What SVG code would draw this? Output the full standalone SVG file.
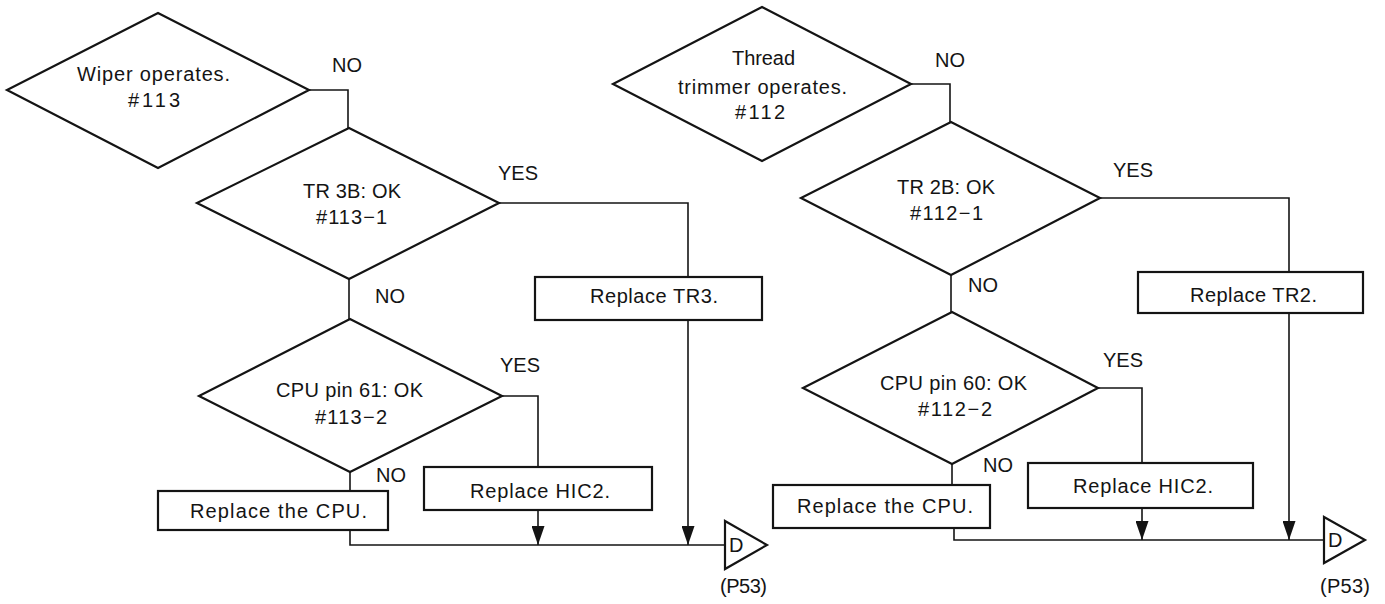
<svg xmlns="http://www.w3.org/2000/svg" width="1385" height="604" viewBox="0 0 1385 604">
<style>
.shape{fill:#fff;stroke:#141414;stroke-width:2.2;stroke-linejoin:miter}
.conn{fill:none;stroke:#141414;stroke-width:1.6}
text{font-family:"Liberation Sans",Arial,sans-serif;font-size:20px;fill:#141414}
.lbl{font-size:20px}
</style>
<defs>
<marker id="arr" viewBox="0 0 19 13" refX="19" refY="6.5" markerWidth="19" markerHeight="13" markerUnits="userSpaceOnUse" orient="auto">
<path d="M0,0 L19,6.5 L0,13 z" fill="#141414"/>
</marker>
</defs>
<rect x="0" y="0" width="1385" height="604" fill="#fff"/>

<g id="connectors">
<path class="conn" d="M309,90 H348 V128"/>
<path class="conn" d="M499,203 H688 V277"/>
<path class="conn" d="M688,320 V545" marker-end="url(#arr)"/>
<path class="conn" d="M349,279 V319"/>
<path class="conn" d="M502,396 H538 V467"/>
<path class="conn" d="M538,510 V545" marker-end="url(#arr)"/>
<path class="conn" d="M350,472 V491"/>
<path class="conn" d="M350,530 V545 H725"/>
<path class="conn" d="M911,84 H950 V122"/>
<path class="conn" d="M1100,198 H1289 V272"/>
<path class="conn" d="M1289,313 V540" marker-end="url(#arr)"/>
<path class="conn" d="M951,275 V312"/>
<path class="conn" d="M1098,388 H1142 V463"/>
<path class="conn" d="M1142,508 V540" marker-end="url(#arr)"/>
<path class="conn" d="M952,464 V485"/>
<path class="conn" d="M954,528 V540 H1324"/>
<text class="lbl" x="332" y="72">NO</text>
<text class="lbl" x="498" y="180">YES</text>
<text class="lbl" x="375" y="303">NO</text>
<text class="lbl" x="500" y="372">YES</text>
<text class="lbl" x="376" y="482">NO</text>
<text class="lbl" x="935" y="67">NO</text>
<text class="lbl" x="1113" y="177">YES</text>
<text class="lbl" x="968" y="292">NO</text>
<text class="lbl" x="1103" y="367">YES</text>
<text class="lbl" x="983" y="472">NO</text>
</g>

<g id="n113">
<polygon class="shape" points="158,13 309,90 158,168 7,90"/>
<text x="77" y="81" textLength="153">Wiper operates.</text>
<text x="128" y="107" textLength="52">#113</text>
</g>
<g id="n113-1">
<polygon class="shape" points="349,128 499,203 349,279 197,203"/>
<text x="303" y="198" textLength="98">TR 3B: OK</text>
<text x="316" y="224" textLength="71">#113−1</text>
</g>
<g id="replaceTR3">
<rect class="shape" x="535" y="277" width="227" height="43"/>
<text x="590" y="303" textLength="128">Replace TR3.</text>
</g>
<g id="n113-2">
<polygon class="shape" points="350,319 502,396 350,472 199,396"/>
<text x="276" y="397" textLength="147">CPU pin 61: OK</text>
<text x="315" y="424" textLength="72">#113−2</text>
</g>
<g id="replaceHIC2L">
<rect class="shape" x="424" y="467" width="228" height="43"/>
<text x="470" y="498" textLength="140">Replace HIC2.</text>
</g>
<g id="replaceCPUL">
<rect class="shape" x="158" y="491" width="230" height="39"/>
<text x="190" y="518" textLength="177">Replace the CPU.</text>
</g>
<g id="offpageDL">
<polygon class="shape" points="725,521 767,545 725,569"/>
<text x="729" y="552" font-size="19">D</text>
<text x="720" y="593" font-size="19" textLength="47">(P53)</text>
</g>

<g id="n112">
<polygon class="shape" points="762,7 911,84 762,161 613,84"/>
<text x="732" y="65" textLength="63">Thread</text>
<text x="678" y="94" textLength="169">trimmer operates.</text>
<text x="735" y="119" textLength="50">#112</text>
</g>
<g id="n112-1">
<polygon class="shape" points="951,122 1100,198 951,275 801,198"/>
<text x="897" y="194" textLength="98">TR 2B: OK</text>
<text x="910" y="220" textLength="73">#112−1</text>
</g>
<g id="replaceTR2">
<rect class="shape" x="1138" y="272" width="225" height="41"/>
<text x="1190" y="302" textLength="127">Replace TR2.</text>
</g>
<g id="n112-2">
<polygon class="shape" points="952,312 1098,388 952,464 803,388"/>
<text x="880" y="390" textLength="147">CPU pin 60: OK</text>
<text x="918" y="416" textLength="74">#112−2</text>
</g>
<g id="replaceHIC2R">
<rect class="shape" x="1028" y="463" width="225" height="45"/>
<text x="1073" y="493" textLength="140">Replace HIC2.</text>
</g>
<g id="replaceCPUR">
<rect class="shape" x="773" y="485" width="217" height="43"/>
<text x="797" y="513" textLength="176">Replace the CPU.</text>
</g>
<g id="offpageDR">
<polygon class="shape" points="1324,517 1365,540 1324,563"/>
<text x="1328" y="547" font-size="19">D</text>
<text x="1320" y="593" font-size="19" textLength="50">(P53)</text>
</g>
</svg>
